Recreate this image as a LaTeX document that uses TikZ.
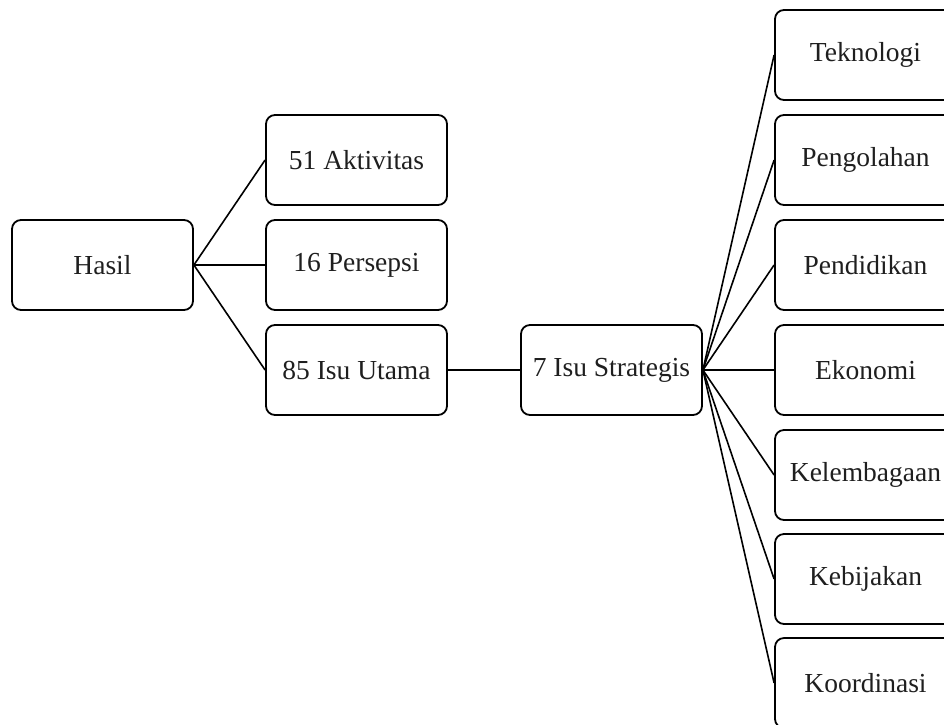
\documentclass[tikz,border=0pt]{standalone}
\usepackage{fontspec}
\setmainfont{Liberation Serif}
\begin{document}
\begin{tikzpicture}[x=1pt,y=-1pt,
  box/.style={draw=black, line width=1.8pt, rounded corners=9pt, minimum width=181pt, minimum height=90pt, inner sep=0pt, font=\fontsize{27.5}{31}\selectfont, text=black!88, fill=white},
  link/.style={draw=black, line width=1.6pt}]
\useasboundingbox (0,0) rectangle (944,724);
\clip (0,0) rectangle (944,724);
\node[box] (hasil) at (102.5,265) {Hasil};
\node[box] (akt) at (356.5,160) {51 Aktivitas};
\node[box] (per) at (356.5,265) {16 Persepsi};
\node[box] (isu) at (356.5,370) {85 Isu Utama};
\node[box] (str) at (611.5,370) {7 Isu Strategis};
\node[box] (t1) at (865.5,55) {Teknologi};
\node[box] (t2) at (865.5,160) {Pengolahan};
\node[box] (t3) at (865.5,265) {Pendidikan};
\node[box] (t4) at (865.5,370) {Ekonomi};
\node[box] (t5) at (865.5,475) {Kelembagaan};
\node[box] (t6) at (865.5,579) {Kebijakan};
\node[box] (t7) at (865.5,683) {Koordinasi};
\foreach \n in {akt,per,isu} \draw[link] (hasil.east) -- (\n.west);
\draw[link] (isu.east) -- (str.west);
\foreach \n in {t1,t2,t3,t4,t5,t6,t7} \draw[link] (str.east) -- (\n.west);
\end{tikzpicture}
\end{document}
